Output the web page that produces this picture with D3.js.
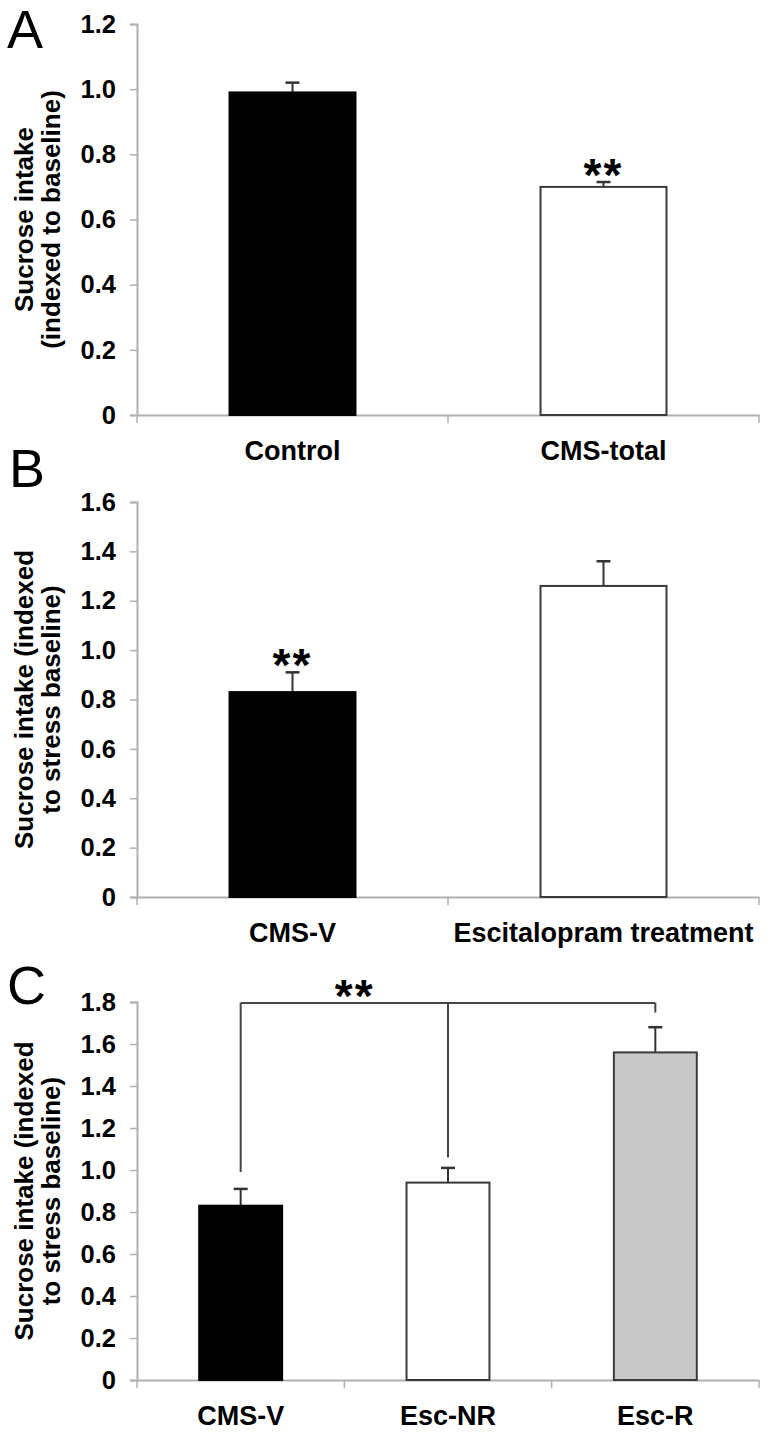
<!DOCTYPE html>
<html>
<head>
<meta charset="utf-8">
<script src="https://cdn.jsdelivr.net/npm/d3@7"></script>
<style>
  html, body { margin: 0; padding: 0; background: #fff; }
  svg { display: block; }
  text { font-family: "Liberation Sans", Arial, Helvetica, sans-serif; }
</style>
</head>
<body>
<svg id="chart" width="774" height="1451"></svg>
<script>
// ---------- DATA ----------
const catsA = ["Control", "CMS-total"];
const valsA = [0.99, 0.70];
const errA  = [0.03, 0.015];
const ticksA = [0, 0.2, 0.4, 0.6, 0.8, 1.0, 1.2];
const titleA = ["Sucrose intake", "(indexed to baseline)"];
const starsA = { cat: "CMS-total", value: 0.765, text: "**" };

const catsB = ["CMS-V", "Escitalopram treatment"];
const valsB = [0.83, 1.26];
const errB  = [0.08, 0.10];
const ticksB = [0, 0.2, 0.4, 0.6, 0.8, 1.0, 1.2, 1.4, 1.6];
const titleB = ["Sucrose intake (indexed", "to stress baseline)"];
const starsB = { cat: "CMS-V", value: 0.98, text: "**" };

const catsC = ["CMS-V", "Esc-NR", "Esc-R"];
const valsC = [0.83, 0.94, 1.56];
const errC  = [0.08, 0.07, 0.12];
const ticksC = [0, 0.2, 0.4, 0.6, 0.8, 1.0, 1.2, 1.4, 1.6, 1.8];
const titleC = ["Sucrose intake (indexed", "to stress baseline)"];
const bracketLevelC = 1.795;
const bracketEndsC = [0.99, 1.06, 1.75];
const starsC = { value: 1.875, text: "**" };

const fillsA = ["#000000", "#ffffff"];
const fillsB = ["#000000", "#ffffff"];
const fillsC = ["#000000", "#ffffff", "#c8c8c8"];

// ---------- DRAW ----------
const svg = d3.select("#chart");
const FONT = '"Liberation Sans", Arial, Helvetica, sans-serif';
const fmt = d => d === 0 ? "0" : d.toFixed(1);

function panel(o) {
  const g = svg.append("g");
  const x = d3.scaleBand().domain(o.cats).range([o.left, o.right]).padding(0);
  const y = d3.scaleLinear().domain([0, d3.max(o.ticks)]).range([o.bottom, o.top]);
  const bw = x.bandwidth() * o.barFrac;
  const cx = c => x(c) + x.bandwidth() / 2;

  // y axis
  const ya = g.append("g").attr("transform", `translate(${o.left},0)`)
    .call(d3.axisLeft(y).tickValues(o.ticks).tickFormat(fmt).tickSize(7).tickPadding(14));
  ya.select(".domain").attr("stroke", "#b0b0b0").attr("stroke-width", 2);
  ya.selectAll(".tick line").attr("stroke", "#b0b0b0").attr("stroke-width", 1.5);
  ya.selectAll(".tick text").attr("font-family", FONT).attr("font-size", 25.5)
    .attr("font-weight", "bold").attr("fill", "#000");

  // x axis (ticks at category boundaries)
  const xa = g.append("g").attr("transform", `translate(0,${o.bottom})`)
    .call(d3.axisBottom(x).tickSize(0).tickPadding(0).tickFormat(""));
  xa.select(".domain").attr("stroke", "#b0b0b0").attr("stroke-width", 2);
  xa.selectAll(".tick").remove();
  const bounds = o.cats.map(c => x(c)).concat([x(o.cats[o.cats.length - 1]) + x.bandwidth()]);
  xa.selectAll("line.bt").data(bounds).join("line").attr("class", "bt")
    .attr("x1", d => d).attr("x2", d => d).attr("y1", 0).attr("y2", 8)
    .attr("stroke", "#b0b0b0").attr("stroke-width", 1.5);

  // category labels
  g.selectAll("text.cat").data(o.cats).join("text").attr("class", "cat")
    .attr("x", d => cx(d)).attr("y", o.bottom + 45)
    .attr("text-anchor", "middle").attr("font-size", 27).attr("font-weight", "bold")
    .attr("fill", "#000").text(d => d);

  // error bars
  const eb = g.selectAll("g.eb").data(o.cats).join("g").attr("class", "eb");
  eb.append("line")
    .attr("x1", d => cx(d)).attr("x2", d => cx(d))
    .attr("y1", (d, i) => y(o.vals[i])).attr("y2", (d, i) => y(o.vals[i] + o.errs[i]))
    .attr("stroke", "#333").attr("stroke-width", 2);
  eb.append("line")
    .attr("x1", d => cx(d) - 7).attr("x2", d => cx(d) + 7)
    .attr("y1", (d, i) => y(o.vals[i] + o.errs[i])).attr("y2", (d, i) => y(o.vals[i] + o.errs[i]))
    .attr("stroke", "#333").attr("stroke-width", 2.5);

  // bars
  g.selectAll("rect.bar").data(o.cats).join("rect").attr("class", "bar")
    .attr("x", d => cx(d) - bw / 2).attr("width", bw)
    .attr("y", (d, i) => y(o.vals[i])).attr("height", (d, i) => y(0) - y(o.vals[i]))
    .attr("fill", (d, i) => o.fills[i])
    .attr("stroke", (d, i) => o.fills[i] === "#000000" ? "#000" : "#3a3a3a")
    .attr("stroke-width", 2);

  // y title
  const t = g.append("text")
    .attr("transform", `translate(0,${(o.top + o.bottom) / 2}) rotate(-90)`)
    .attr("text-anchor", "middle").attr("font-size", 26).attr("font-weight", "bold").attr("fill", "#000");
  t.selectAll("tspan").data(o.title).join("tspan")
    .attr("x", 0).attr("y", (d, i) => 33 + i * 27).text(d => d);

  // panel letter
  g.append("text").attr("x", o.letterX).attr("y", o.letterY)
    .attr("font-size", 54).attr("font-weight", "normal").attr("fill", "#000").text(o.letter);

  return { x, y, cx, g };
}

function stars(p, sx, value, text) {
  const fs = 46;
  p.g.append("text").attr("x", sx).attr("y", p.y(value) + 0.56 * fs)
    .attr("text-anchor", "middle").attr("font-size", fs).attr("font-weight", "bold")
    .attr("letter-spacing", 2).attr("fill", "#000").text(text);
}

const pA = panel({ cats: catsA, vals: valsA, errs: errA, ticks: ticksA, title: titleA, fills: fillsA,
  left: 137, right: 759, top: 24, bottom: 415, barFrac: 0.405, letter: "A", letterX: 7, letterY: 48 });
stars(pA, pA.cx(starsA.cat), starsA.value, starsA.text);

const pB = panel({ cats: catsB, vals: valsB, errs: errB, ticks: ticksB, title: titleB, fills: fillsB,
  left: 137, right: 759, top: 502, bottom: 897, barFrac: 0.405, letter: "B", letterX: 9, letterY: 487 });
stars(pB, pB.cx(starsB.cat), starsB.value, starsB.text);

const pC = panel({ cats: catsC, vals: valsC, errs: errC, ticks: ticksC, title: titleC, fills: fillsC,
  left: 137, right: 759, top: 1002, bottom: 1380, barFrac: 0.40, letter: "C", letterX: 7, letterY: 1004 });

// bracket in C
const bx = catsC.map(c => pC.cx(c));
const by = pC.y(bracketLevelC);
const bracketPath = d3.path();
catsC.forEach((c, i) => {
  bracketPath.moveTo(bx[i], pC.y(bracketEndsC[i]));
  bracketPath.lineTo(bx[i], by);
});
bracketPath.moveTo(bx[0], by);
bracketPath.lineTo(bx[bx.length - 1], by);
pC.g.append("path").attr("d", bracketPath.toString()).attr("fill", "none")
  .attr("stroke", "#444").attr("stroke-width", 2).attr("stroke-linejoin", "round");
stars(pC, bx[0] + 0.55 * (bx[1] - bx[0]), starsC.value, starsC.text);
</script>
</body>
</html>
